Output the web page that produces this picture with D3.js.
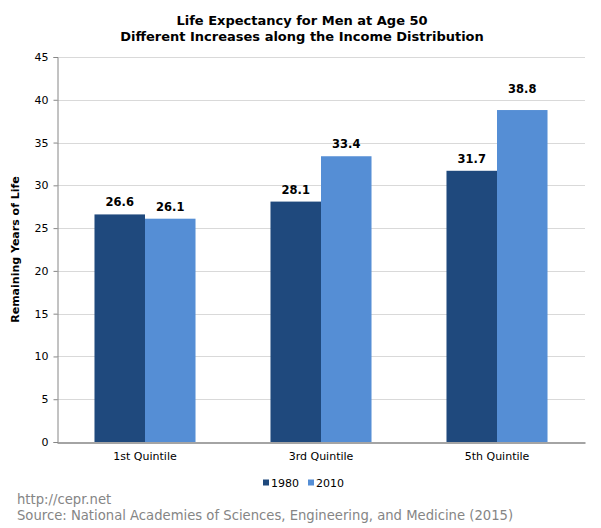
<!DOCTYPE html>
<html><head><meta charset="utf-8">
<script src="https://cdn.jsdelivr.net/npm/d3@7"></script>
<style>body{margin:0;background:#fff}svg{display:block}</style>
</head><body>
<script>
const categories = ["1st Quintile", "3rd Quintile", "5th Quintile"];
const seriesNames = ["1980", "2010"];
const values1980 = [26.6, 28.1, 31.7];
const values2010 = [26.1, 33.4, 38.8];
const yTicks = [0, 5, 10, 15, 20, 25, 30, 35, 40, 45];
const colors = ["#1f497d", "#558ed5"];

const W = 601, H = 528;
const m = {left: 57, right: 16, top: 57, bottom: 86};
const svg = d3.select("body").append("svg").attr("width", W).attr("height", H)
  .style("font-family", "'DejaVu Sans', Verdana, sans-serif");

const x = d3.scaleBand().domain(categories).range([m.left, W - m.right]).paddingInner(0.426).paddingOuter(0.213);
const xs = d3.scaleBand().domain(seriesNames).range([0, x.bandwidth()]);
const y = d3.scaleLinear().domain([0, 45]).range([H - m.bottom, m.top]);

// gridlines
svg.append("g").selectAll("line").data(yTicks.filter(d => d > 0)).join("line")
  .attr("x1", m.left).attr("x2", W - m.right)
  .attr("y1", d => Math.round(y(d)) + 0.5).attr("y2", d => Math.round(y(d)) + 0.5)
  .attr("stroke", "#d9d9d9");

// y axis
const yAxis = d3.axisLeft(y).tickValues(yTicks).tickSize(4).tickPadding(5);
const gy = svg.append("g").attr("transform", `translate(${m.left + 0.5},0)`).call(yAxis);
gy.select(".domain").attr("stroke", "#868686");
gy.selectAll(".tick line").attr("stroke", "#868686");
gy.selectAll(".tick text").attr("font-size", 11).attr("fill", "#000").attr("font-family", "'DejaVu Sans', sans-serif");

// bars
const series = [values1980, values2010];
const gBars = svg.append("g");
series.forEach((vals, si) => {
  gBars.selectAll(null).data(vals).join("rect")
    .attr("x", (d, i) => x(categories[i]) + xs(seriesNames[si]))
    .attr("width", xs.bandwidth())
    .attr("y", d => y(d))
    .attr("height", d => y(0) - y(d))
    .attr("fill", colors[si]);
  gBars.selectAll(null).data(vals).join("text")
    .attr("x", (d, i) => x(categories[i]) + xs(seriesNames[si]) + xs.bandwidth() / 2)
    .attr("y", d => y(d) - (d > 36 ? 17 : 8))
    .attr("text-anchor", "middle")
    .attr("font-size", 11.5).attr("font-weight", "bold").attr("fill", "#000")
    .text(d => d.toFixed(1));
});

// x axis
const xAxis = d3.axisBottom(x).tickSize(0).tickPadding(10);
const gx = svg.append("g").attr("transform", `translate(0,${y(0) + 0.5})`).call(xAxis);
gx.select(".domain").attr("stroke", "#868686").attr("stroke-width", 1.5);
gx.selectAll(".tick text").attr("font-size", 11).attr("fill", "#000").attr("font-family", "'DejaVu Sans', sans-serif");

// y label
svg.append("text")
  .attr("transform", `translate(19,${(y(0) + y(45)) / 2}) rotate(-90)`)
  .attr("text-anchor", "middle").attr("font-size", 11).attr("font-weight", "bold")
  .text("Remaining Years of Life");

// title
const title = svg.append("text").attr("text-anchor", "middle").attr("font-weight", "bold").attr("font-size", 13);
title.append("tspan").attr("x", 302).attr("y", 25).text("Life Expectancy for Men at Age 50");
title.append("tspan").attr("x", 302).attr("y", 41).text("Different Increases along the Income Distribution");

// legend
const leg = svg.append("g").attr("transform", "translate(263,483)");
let lx = 0;
seriesNames.forEach((s, i) => {
  const g = leg.append("g").attr("transform", `translate(${lx},0)`);
  g.append("rect").attr("x", 0).attr("y", -3.5).attr("width", 6).attr("height", 6).attr("fill", colors[i]);
  g.append("text").attr("x", 8).attr("y", 4).attr("font-size", 11).text(s);
  lx += 45;
});

// footer
svg.append("text").attr("x", 17).attr("y", 504).attr("font-size", 13.2).attr("fill", "#858585").text("http://cepr.net");
svg.append("text").attr("x", 17).attr("y", 520).attr("font-size", 13.2).attr("fill", "#858585").text("Source: National Academies of Sciences, Engineering, and Medicine (2015)");
</script>
</body></html>
